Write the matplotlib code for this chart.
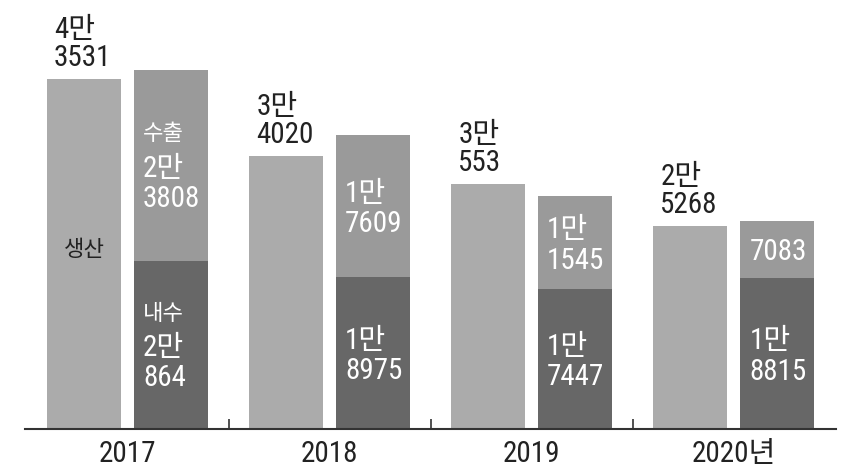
import matplotlib
matplotlib.use("Agg")
import matplotlib.pyplot as plt
from matplotlib import font_manager
import numpy as np

# prefer a narrow Latin face for the digits, Korean glyphs from Noto CJK
names = {f.name for f in font_manager.fontManager.ttflist}
narrow = [n for n in ("Liberation Sans Narrow", "Arial Narrow", "Roboto Condensed",
                      "Open Sans Condensed", "DejaVu Sans Condensed") if n in names]
stretch = 'normal'
if narrow:
    families = [narrow[0], 'Noto Sans CJK KR', 'DejaVu Sans']
else:
    families = ['DejaVu Sans', 'Noto Sans CJK KR']
    stretch = 'condensed'
plt.rcParams['font.family'] = families
plt.rcParams['font.stretch'] = stretch

# Car production / domestic sales / exports by year (units)
years = ["2017", "2018", "2019", "2020년"]
production = [43531, 34020, 30553, 25268]
domestic = [20864, 18975, 17447, 18815]
exports = [23808, 17609, 11545, 7083]

prod_labels = ["4만\n3531", "3만\n4020", "3만\n553", "2만\n5268"]
export_labels = ["수출\n2만\n3808", "1만\n7609", "1만\n1545", "7083"]
domestic_labels = ["내수\n2만\n864", "1만\n8975", "1만\n7447", "1만\n8815"]

c_prod = "#ababab"
c_export = "#9a9a9a"
c_dom = "#676767"
c_text = "#222222"

fig = plt.figure(figsize=(8.46, 4.71), dpi=100)
W, H = 846, 471
ax = fig.add_axes([25 / W, (H - 429) / H, (836 - 25) / W, 429 / H])

x = np.arange(len(years))
bw = 0.366
off = 0.215

ax.bar(x - off, production, bw, color=c_prod, zorder=2)
ax.bar(x + off, domestic, bw, color=c_dom, zorder=2)
ax.bar(x + off, exports, bw, bottom=domestic, color=c_export, zorder=2)

ax.set_xlim(-0.507, 3.505)
ax.set_ylim(0, 53425)

big = 21
small = 16

# production values above the bars
for xi, v, lab in zip(x, production, prod_labels):
    ax.annotate(lab, (xi - off - bw / 2, v), xytext=(7, 7),
                textcoords='offset pixels', ha='left', va='bottom',
                fontsize=big, color=c_text, linespacing=1.0)


def inside(text, xi, ymid):
    left = xi + off - bw / 2
    lines = text.split("\n")
    if lines[0] in ("수출", "내수"):
        head, rest = lines[0], "\n".join(lines[1:])
        ax.annotate(rest, (left, ymid), xytext=(9, -18),
                    textcoords='offset pixels', ha='left', va='center',
                    fontsize=big, color='white', linespacing=1.1)
        ax.annotate(head, (left, ymid), xytext=(9, 31),
                    textcoords='offset pixels', ha='left', va='center',
                    fontsize=small, color='white')
    else:
        ax.annotate(text, (left, ymid), xytext=(9, -3),
                    textcoords='offset pixels', ha='left', va='center',
                    fontsize=big, color='white', linespacing=1.1)


for xi, d, e, el, dl in zip(x, domestic, exports, export_labels, domestic_labels):
    inside(el, xi, d + e / 2)
    inside(dl, xi, d / 2)

ax.annotate("생산", (x[0] - off, 0.417), xycoords=('data', 'axes fraction'),
            ha='center', va='center', fontsize=small, color=c_text)

for s in ("top", "right", "left"):
    ax.spines[s].set_visible(False)
ax.spines["bottom"].set_color("#333333")
ax.spines["bottom"].set_linewidth(1.5)
ax.set_yticks([])
ax.set_xticks(x)
ax.set_xticklabels(years, fontsize=big, color=c_text)
ax.tick_params(axis='x', which='major', length=0, pad=8)
ax.set_xticks(x[:-1] + 0.5, minor=True)
ax.tick_params(axis='x', which='minor', direction='in', length=7, width=1.2, color="#333333")

fig.savefig("out.png", dpi=100)
